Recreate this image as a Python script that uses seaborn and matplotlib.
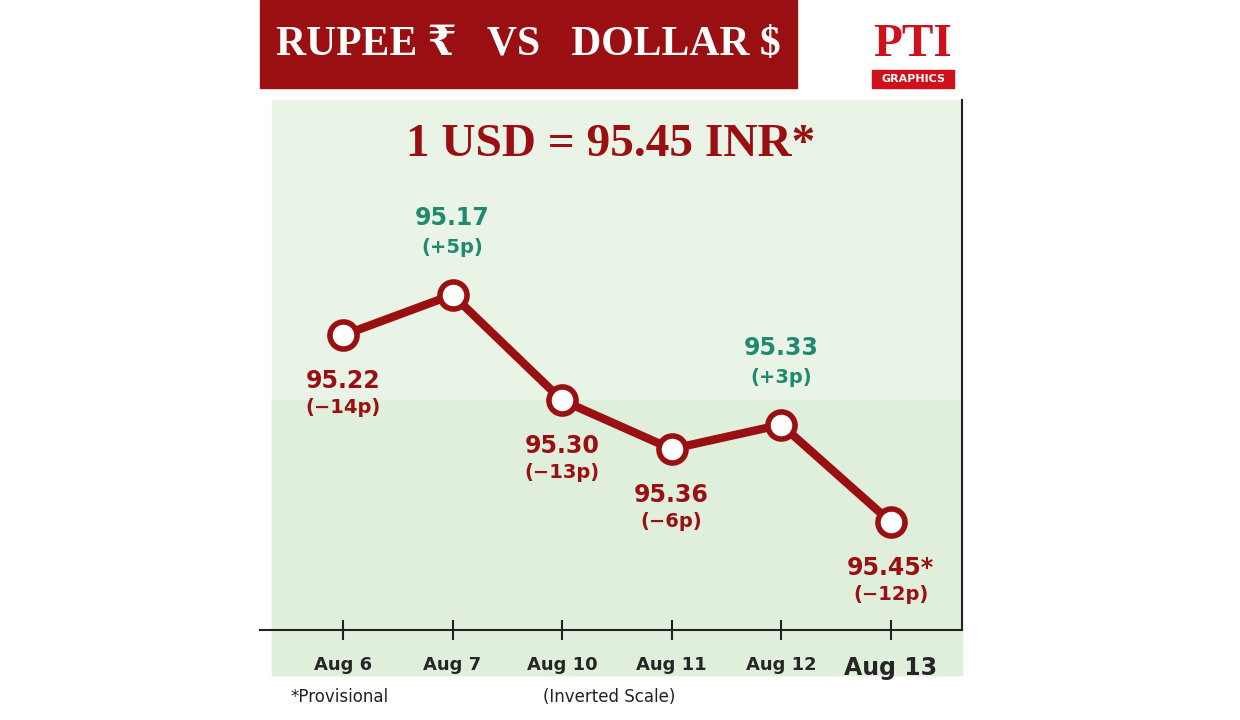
import matplotlib
matplotlib.use("Agg")
import matplotlib.pyplot as plt
import matplotlib.patches as mpatches
import seaborn as sns
import pandas as pd

dates = ["Aug 6", "Aug 7", "Aug 10", "Aug 11", "Aug 12", "Aug 13"]
rates = [95.22, 95.17, 95.30, 95.36, 95.33, 95.45]
rate_labels = ["95.22", "95.17", "95.30", "95.36", "95.33", "95.45*"]
changes = ["(\u221214p)", "(+5p)", "(\u221213p)", "(\u22126p)", "(+3p)", "(\u221212p)"]
gained = [False, True, False, False, True, False]

RED = "#9a0f12"
GREEN = "#1f8a70"
W, H = 1240, 720

sns.set_theme(style="white")
plt.rcParams["font.family"] = ["DejaVu Sans"]

fig = plt.figure(figsize=(12.4, 7.2), dpi=100)
fig.patch.set_facecolor("white")

# pale note-like background
fig.patches.append(mpatches.Rectangle((272 / W, 45 / H), 690 / W, (720 - 100 - 45) / H,
                                      transform=fig.transFigure, color="#eaf4e6", zorder=-2))
fig.patches.append(mpatches.Rectangle((272 / W, 45 / H), 690 / W, (720 - 400 - 45) / H,
                                      transform=fig.transFigure, color="#e0efdc", zorder=-1))
# title banner
fig.patches.append(mpatches.Rectangle((260 / W, 1 - 88 / H), 537 / W, 88 / H,
                                      transform=fig.transFigure, color=RED, zorder=-1))
fig.text(528 / W, 1 - 45 / H, "RUPEE \u20b9   VS   DOLLAR $", color="white", fontsize=30,
         fontweight="bold", family=["Liberation Serif", "DejaVu Serif"], ha="center", va="center")
# logo
fig.patches.append(mpatches.Rectangle((872 / W, 1 - 88 / H), 82 / W, 18 / H,
                                      transform=fig.transFigure, color="#d0101a", zorder=-1))
fig.text(913 / W, 1 - 79 / H, "GRAPHICS", color="white", fontsize=8, fontweight="bold",
         ha="center", va="center")
fig.text(913 / W, 1 - 45 / H, "PTI", color="#d0101a", fontsize=34, fontweight="bold",
         ha="center", va="center", family=["Liberation Serif", "DejaVu Serif"])

ax = fig.add_axes([260 / W, 90 / H, 702 / W, 530 / H])
ax.set_zorder(5)
ax.set_facecolor("none")
df = pd.DataFrame({"x": range(len(dates)), "rate": rates})
sns.lineplot(data=df, x="x", y="rate", ax=ax, color=RED, linewidth=6, zorder=2)
ax.scatter(df["x"], df["rate"], s=380, facecolor="white", edgecolor=RED, linewidth=4, zorder=3)

ax.set_xlim(-0.757, 5.65)
ax.set_ylim(95.583, 94.93)

for i in range(len(dates)):
    c = GREEN if gained[i] else RED
    if gained[i]:
        ax.annotate(rate_labels[i], (i, rates[i]), xytext=(0, 50), textcoords="offset points",
                    ha="center", color=c, fontsize=17, fontweight="bold")
        ax.annotate(changes[i], (i, rates[i]), xytext=(0, 30), textcoords="offset points",
                    ha="center", color=c, fontsize=14, fontweight="bold")
    else:
        ax.annotate(rate_labels[i], (i, rates[i]), xytext=(0, -38), textcoords="offset points",
                    ha="center", color=c, fontsize=17, fontweight="bold")
        ax.annotate(changes[i], (i, rates[i]), xytext=(0, -56), textcoords="offset points",
                    ha="center", color=c, fontsize=14, fontweight="bold")

ax.text(0.5, 94.985, "1 USD = 95.45 INR*", color=RED, fontsize=34, fontweight="bold",
        ha="center", va="center", transform=ax.get_yaxis_transform(),
        family=["Liberation Serif", "DejaVu Serif"])

for s in ["top", "left"]:
    ax.spines[s].set_visible(False)
for s in ["bottom", "right"]:
    ax.spines[s].set_color("#222222")
    ax.spines[s].set_linewidth(1.5)
ax.set_yticks([])
ax.set_xticks(range(len(dates)))
ax.set_xticklabels(dates)
ax.tick_params(axis="x", direction="inout", length=14, width=1.5, color="#222222",
               labelsize=13, pad=12, bottom=True)
for i, t in enumerate(ax.get_xticklabels()):
    t.set_fontweight("bold")
    if i == 5:
        t.set_fontsize(17)
ax.set_xlabel("")
ax.set_ylabel("")

fig.text(290 / W, 1 - 697 / H, "*Provisional", fontsize=12, ha="left", va="center", color="#222222")
fig.text(609 / W, 1 - 697 / H, "(Inverted Scale)", fontsize=12, ha="center", va="center", color="#222222")

fig.savefig("out.png", dpi=100)
